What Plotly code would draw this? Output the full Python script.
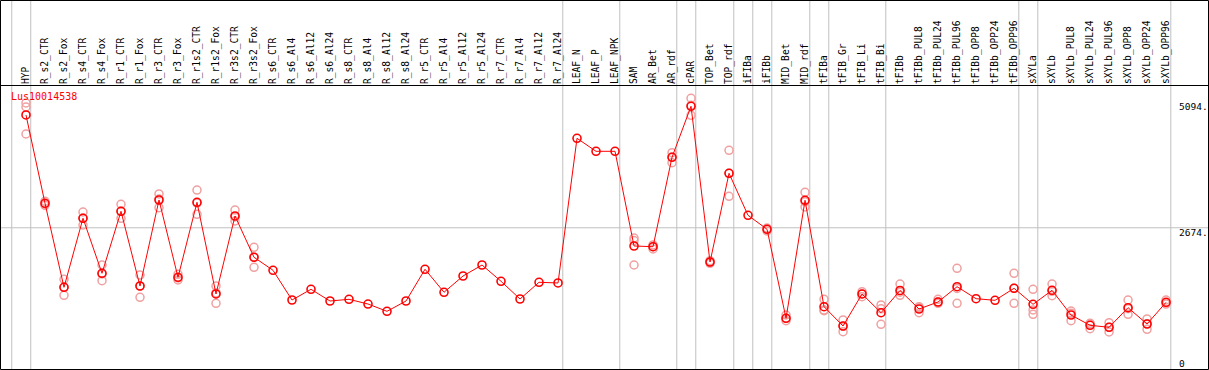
import plotly.graph_objects as go

categories = ["HYP", "R_s2_CTR", "R_s2_Fox", "R_s4_CTR", "R_s4_Fox", "R_r1_CTR", "R_r1_Fox",
              "R_r3_CTR", "R_r3_Fox", "R_r1s2_CTR", "R_r1s2_Fox", "R_r3s2_CTR", "R_r3s2_Fox",
              "R_s6_CTR", "R_s6_Al4", "R_s6_Al12", "R_s6_Al24", "R_s8_CTR", "R_s8_Al4", "R_s8_Al12",
              "R_s8_Al24", "R_r5_CTR", "R_r5_Al4", "R_r5_Al12", "R_r5_Al24", "R_r7_CTR", "R_r7_Al4",
              "R_r7_Al12", "R_r7_Al24", "LEAF_N", "LEAF_P", "LEAF_NPK", "SAM", "AR_Bet", "AR_rdf",
              "cPAR", "TOP_Bet", "TOP_rdf", "iFIBa", "iFIBb", "MID_Bet", "MID_rdf", "tFIBa",
              "tFIB_Gr", "tFIB_Li", "tFIB_Bi", "tFIBb", "tFIBb_PUL8", "tFIBb_PUL24", "tFIBb_PUL96",
              "tFIBb_OPP8", "tFIBb_OPP24", "tFIBb_OPP96", "sXYLa", "sXYLb", "sXYLb_PUL8",
              "sXYLb_PUL24", "sXYLb_PUL96", "sXYLb_OPP8", "sXYLb_OPP24", "sXYLb_OPP96"]

mean_values = [4921, 3162, 1488, 2863, 1767, 3002, 1514, 3227, 1687, 3181, 1355, 2909, 2086,
               1827, 1235, 1448, 1215, 1249, 1155, 1010, 1215, 1847, 1389, 1713, 1932, 1608, 1255,
               1588, 1574, 4456, 4197, 4197, 2311, 2297, 4078, 5094, 1992, 3759, 2922, 2644, 871,
               3221, 1102, 717, 1355, 982, 1424, 1056, 1195, 1500, 1261, 1229, 1468, 1149, 1428,
               936, 731, 691, 1082, 757, 1189]

N = None
rep_a = [5160, 3200, 1647, 2988, 1932, 3142, 1733, 3347, 1747, 3426, 1514, 3028, 2285,
         N, N, N, N, N, N, N, N, N, N, N, N, N, N, N, N, N, N, N,
         2470, 2331, 4170, 5253, 2018, 4217, N, 2669, 936, 3381, 1249, 837, 1400, 1136,
         1554, 1102, 1249, 1867, N, N, 1767, 1448, 1554, 1016, 771, 783, 1235, 857, 1235]
rep_b = [5080, 3141, 1494, 2729, 1620, 2863, 1289, 3074, 1634, 2942, 1169, 2809, 1887,
         N, N, N, N, N, N, N, N, N, N, N, N, N, N, N, N, N, N, N,
         2420, 2251, 3970, 4915, 1966, 3301, N, 2610, 823, 3088, 1022, 604, 1301, 751,
         1329, 982, 1169, 1169, N, N, 1169, 1036, 1321, 823, 663, 598, 950, 651, 1155]
rep_c = [4542, 3121, 1329, 2869, 1753, 3002, 1514, 3247, 1673, 3167, 1375, 2889, 2092,
         N, N, N, N, N, N, N, N, N, N, N, N, N, N, N, N, N, N, N,
         1932, 2297, 4084, 5114, 1992, 3759, N, 2650, 871, 3194, 1035, 710, 1355, 1059,
         1390, 1085, 1195, 1464, N, N, 1468, 950, 1409, 969, 760, 692, 1061, 763, 1177]

group_ends = [-1, 0, 28, 31, 34, 35, 37, 38, 39, 41, 42, 45, 52, 53, 60]
y_ticks = [0, 2674, 5094]
y_tick_text = ["0", "2674.", "5094."]
y_tick_shift = [-1, -5, 0]
gene_id = "Lus10014538"

W, H = 1209, 370
RED = "#ff0000"
PINK = "#f0a0a0"
GRAY = "#c0c0c0"
MONO = "DejaVu Sans Mono"

fig = go.Figure()

for reps in (rep_a, rep_b, rep_c):
    fig.add_trace(go.Scatter(
        x=categories, y=reps, mode="markers",
        marker=dict(symbol="circle-open", size=8, color=PINK, line=dict(width=1.5, color=PINK)),
        showlegend=False, hoverinfo="skip"))

fig.add_trace(go.Scatter(
    x=categories, y=mean_values, mode="lines+markers",
    line=dict(color=RED, width=1),
    marker=dict(symbol="circle-open", size=8, color=RED, line=dict(width=1.6, color=RED)),
    showlegend=False))

shapes = []
for g in group_ends:
    shapes.append(dict(type="line", xref="x", yref="paper", x0=g + 0.25, x1=g + 0.25,
                       y0=0, y1=1, line=dict(color=GRAY, width=1), layer="below"))
shapes.append(dict(type="line", xref="paper", yref="y", x0=0, x1=1, y0=y_ticks[1], y1=y_ticks[1],
                   line=dict(color=GRAY, width=1), layer="below"))
# frame and header separator
shapes.append(dict(type="rect", xref="paper", yref="paper",
                   x0=0.5 / W, x1=1 - 0.5 / W, y0=0.5 / H, y1=1 - 0.5 / H,
                   line=dict(color="black", width=1)))
shapes.append(dict(type="line", xref="paper", yref="paper", x0=0, x1=1,
                   y0=(H - 85.5) / H, y1=(H - 85.5) / H, line=dict(color="black", width=1)))

annotations = [dict(text=gene_id, xref="paper", yref="paper", x=9 / W, y=(H - 96.7) / H,
                    xanchor="left", yanchor="middle", showarrow=False,
                    font=dict(family=MONO, size=10, color=RED))]
for v, t, s in zip(y_ticks, y_tick_text, y_tick_shift):
    annotations.append(dict(text=t, xref="paper", yref="y", x=1177 / W, y=v, yshift=s,
                            xanchor="left", yanchor="middle", showarrow=False,
                            font=dict(family=MONO, size=9.5, color="black")))

fig.update_layout(
    width=W, height=H,
    margin=dict(l=0, r=0, t=0, b=0, pad=0),
    paper_bgcolor="white", plot_bgcolor="white",
    shapes=shapes, annotations=annotations,
    xaxis=dict(type="category", range=[-1.368, 62.26], side="top", tickangle=-90,
               tickmode="array", tickvals=categories, ticktext=categories,
               tickfont=dict(family=MONO, size=9.6, color="black"),
               showgrid=False, zeroline=False, showline=False, ticks="", automargin=False,
               fixedrange=True),
    yaxis=dict(range=[-139.5, 5518], domain=[1 / H, (H - 85) / H], showgrid=False,
               zeroline=False, showline=False, showticklabels=False, ticks="",
               automargin=False, fixedrange=True),
)

fig.write_html("out.html", config={"displayModeBar": False},
               post_script="document.body.style.margin='0';document.body.style.padding='0';")
